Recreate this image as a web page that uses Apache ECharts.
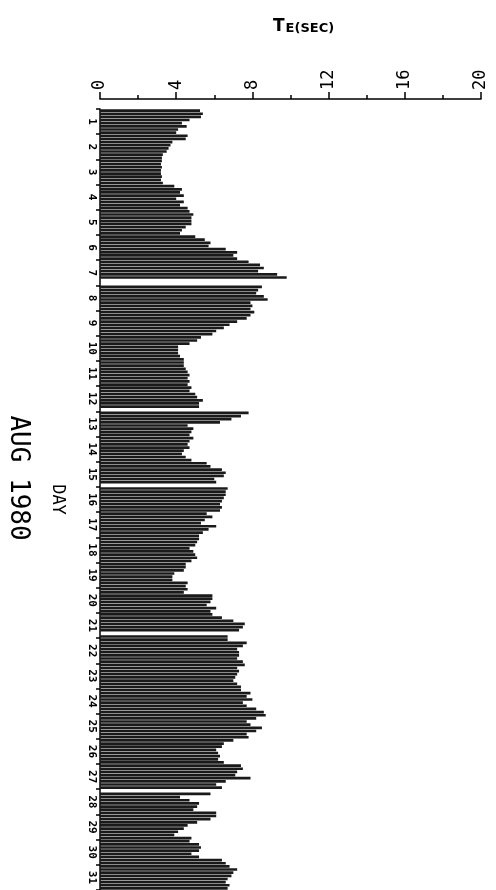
<!DOCTYPE html>
<html><head><meta charset="utf-8">
<script src="https://cdn.jsdelivr.net/npm/echarts@6/dist/echarts.min.js"></script>
<style>html,body{margin:0;padding:0;background:#fff}#c{width:496px;height:890px}</style>
</head><body><div id="c"></div>
<script>
const days = ['1','2','3','4','5','6','7','8','9','10','11','12','13','14','15','16','17','18','19','20','21','22','23','24','25','26','27','28','29','30','31'];
const hours = ['00','03','06','09','12','15','18','21'];
// TE (sec), 3-hourly, 8 values per day
const aug01to07 = [
  5.25,5.4,5.3,4.7,4.3,4.55,4.1,4.0,
  4.6,4.5,3.8,3.7,3.6,3.5,3.3,3.25,
  3.25,3.2,3.25,3.2,3.2,3.25,3.2,3.3,
  3.9,4.3,4.2,4.4,4.0,4.4,4.2,4.6,
  4.7,4.9,4.8,4.8,4.8,4.5,4.3,4.2,
  5.0,5.5,5.8,5.7,6.6,7.2,7.0,7.2,
  7.8,8.4,8.6,8.3,9.3,9.8,0,0
];
const aug08to14 = [
  8.5,8.3,8.2,8.6,8.8,7.9,8.0,7.9,
  8.1,7.9,7.7,7.2,6.8,6.5,6.1,5.9,
  5.3,5.1,4.7,4.1,4.1,4.1,4.2,4.4,
  4.4,4.4,4.5,4.6,4.7,4.6,4.7,4.6,
  4.8,4.7,5.0,5.1,5.4,5.2,5.2,0,
  7.8,7.4,6.9,6.3,4.6,4.9,4.8,4.7,
  4.9,4.7,4.6,4.7,4.4,4.3,4.5,4.8
];
const aug15to21 = [
  5.6,5.8,6.4,6.6,6.5,6.0,6.1,0,
  6.7,6.6,6.6,6.5,6.4,6.3,6.4,6.3,
  5.6,5.9,5.5,5.3,6.1,5.7,5.4,5.2,
  5.2,5.1,5.0,4.7,4.9,5.0,5.1,4.8,
  4.5,4.5,4.4,3.9,3.8,3.8,4.6,4.5,
  4.6,4.4,5.9,5.9,5.8,5.6,6.1,5.8,
  5.9,6.4,7.0,7.6,7.5,7.3,0,6.7
];
const aug22to28 = [
  6.7,7.7,7.5,7.2,7.3,7.3,7.2,7.5,
  7.6,7.2,7.3,7.2,7.1,7.0,7.2,7.4,
  7.4,7.9,7.7,8.0,7.5,7.7,8.2,8.6,
  8.7,8.2,7.7,7.9,8.5,8.2,7.7,7.8,
  7.0,6.5,6.4,6.1,6.2,6.3,6.2,6.5,
  7.4,7.5,7.2,7.1,7.9,6.6,6.1,6.4,
  0,5.8,4.2,4.7,5.2,5.1,4.9,6.1
];
const aug29to31 = [
  6.1,5.8,5.1,4.6,4.4,4.1,3.9,4.8,
  4.7,5.2,5.3,5.2,4.8,5.2,6.4,6.6,
  6.8,7.2,7.0,6.9,6.7,6.6,6.8,6.7
];
const te = [].concat(aug01to07, aug08to14, aug15to21, aug22to28, aug29to31);
const slots = [];
days.forEach(d => hours.forEach(h => slots.push(d + ' ' + h)));

const font = 'DejaVu Sans Mono';
const chart = echarts.init(document.getElementById('c'), null, {renderer: 'canvas'});
chart.setOption({
  animation: false,
  title: {
    text: '{t|T}{s|E(SEC)}', left: 268, top: 13,
    textStyle: { rich: {
      t: { fontSize: 17, fontFamily: 'DejaVu Sans', color: '#000' },
      s: { fontSize: 13, fontFamily: 'DejaVu Sans', fontWeight: 'bold', color: '#000', padding: [4, 0, 0, 1] }
    } }
  },
  graphic: [{
    type: 'text', x: 18, y: 478, rotation: -Math.PI / 2,
    style: { text: 'AUG 1980', font: '26px "DejaVu Sans Mono"', fill: '#000', align: 'center', verticalAlign: 'middle' }
  }],
  grid: { left: 100, top: 109, width: 381, height: 781, containLabel: false },
  xAxis: [
    { type: 'value', position: 'top', min: 0, max: 20, interval: 4, offset: 10,
      axisLine: { show: true, lineStyle: { color: '#000', width: 1.5 } },
      axisTick: { show: true, length: 7, lineStyle: { color: '#000', width: 1.5 } },
      splitLine: { show: false },
      axisLabel: { rotate: -90, fontSize: 17, fontFamily: font, color: '#000', margin: 9 } },
    { type: 'value', position: 'top', min: 0, max: 20, interval: 2, offset: 10,
      axisLine: { show: false },
      axisTick: { show: true, length: 4, lineStyle: { color: '#000', width: 1.5 } },
      splitLine: { show: false }, axisLabel: { show: false } }
  ],
  yAxis: [
    { type: 'category', data: days, inverse: true, position: 'left',
      axisLine: { show: true, lineStyle: { color: '#000', width: 1.5 } },
      axisTick: { show: true, length: 4, lineStyle: { color: '#000', width: 1.5 } },
      axisLabel: { rotate: -90, fontSize: 11, fontWeight: 'bold', fontFamily: font, color: '#000', margin: 3, interval: 0 },
      name: 'DAY', nameLocation: 'middle', nameRotate: -90, nameGap: 34,
      nameTextStyle: { fontSize: 17, fontFamily: font, color: '#000' } },
    { type: 'category', data: slots, inverse: true, position: 'left',
      axisLine: { show: false }, axisTick: { show: false }, axisLabel: { show: false } }
  ],
  series: [{
    type: 'bar', xAxisIndex: 0, yAxisIndex: 1, data: te,
    barCategoryGap: '15%', itemStyle: { color: '#1a1a1a' }
  }]
});
</script></body></html>
